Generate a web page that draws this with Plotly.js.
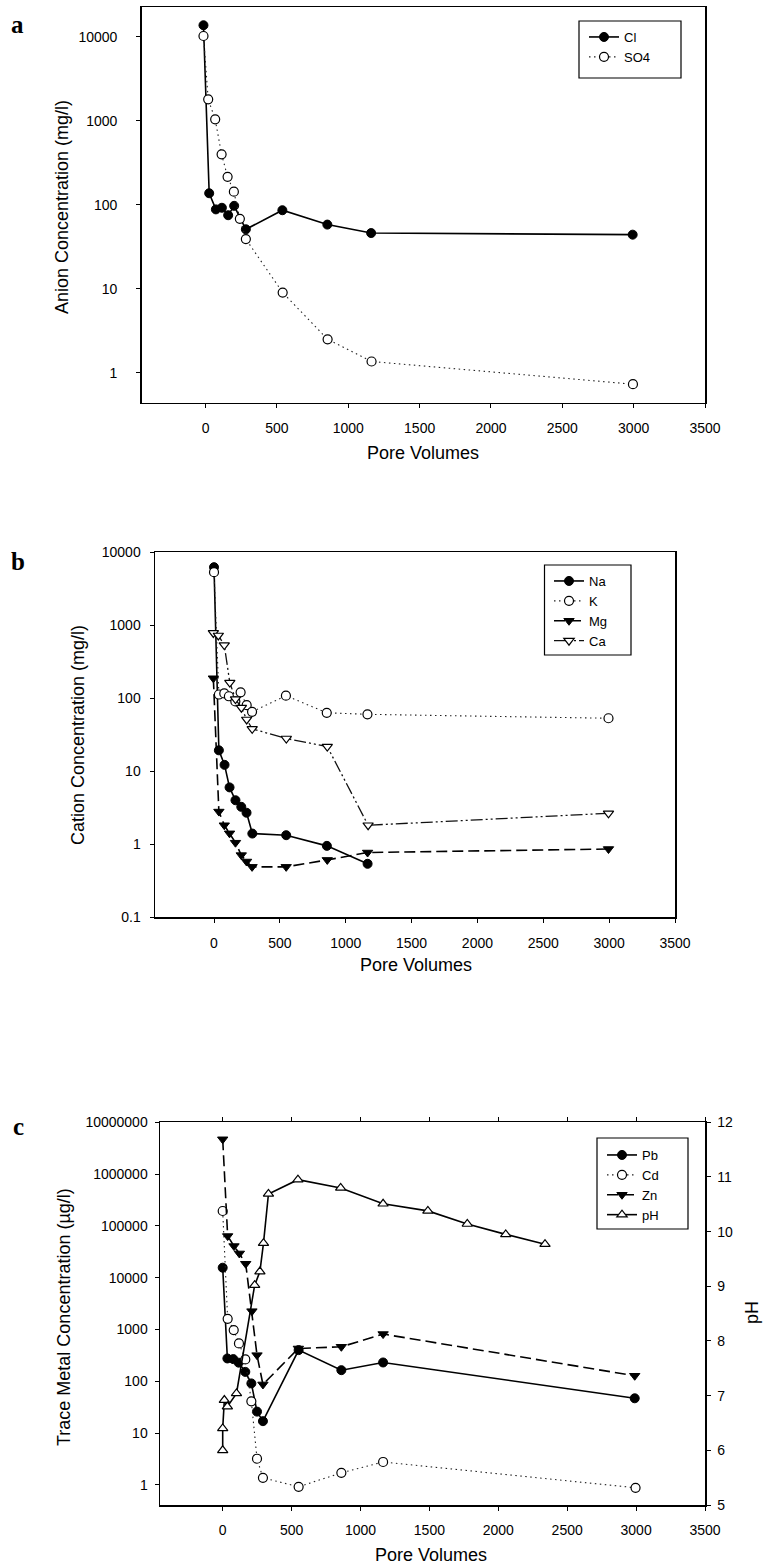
<!DOCTYPE html>
<html><head><meta charset="utf-8">
<script src="https://cdn.plot.ly/plotly-3.0.1.min.js"></script>
<style>html,body{margin:0;padding:0;background:#fff}#chart{width:763px;height:1566px}</style>
</head><body><div id="chart"></div>
<script>
// ---------- data: panel a (anions, mg/l) ----------
const poreCl  = [-15, 25, 72, 114, 158, 200, 282, 538, 853, 1160, 2993];
const cl      = [13700, 137, 88, 92, 75, 97, 51, 86, 58, 46, 44];
const poreSO4 = [-15, 18, 67, 112, 154, 198, 240, 282, 540, 855, 1163, 2995];
const so4     = [10200, 1800, 1040, 398, 215, 143, 68, 39, 9.0, 2.5, 1.36, 0.73];

// ---------- data: panel b (cations, mg/l) ----------
const poreNa = [0, 37, 80, 118, 163, 207, 247, 291, 548, 857, 1166];
const na     = [6200, 19.3, 12.2, 6.0, 4.0, 3.25, 2.7, 1.4, 1.33, 0.95, 0.54];
const poreK  = [0, 37, 78, 113, 162, 202, 248, 289, 546, 856, 1165, 2995];
const k      = [5300, 112, 116, 106, 90, 120, 80, 65, 108, 63, 60, 53];
const poreMg = [-5, 37, 78, 118, 163, 207, 247, 289, 548, 860, 1166, 2995];
const mg     = [187, 2.8, 1.82, 1.41, 1.05, 0.71, 0.58, 0.49, 0.49, 0.61, 0.77, 0.86];
const poreCa = [-5, 33, 78, 120, 163, 208, 248, 290, 549, 860, 1170, 2995];
const ca     = [780, 720, 533, 163, 97, 74, 51, 38, 28, 21.7, 1.82, 2.65];

// ---------- data: panel c (trace metals, ug/l, and pH) ----------
const porePb = [0, 34, 77, 116, 164, 208, 249, 292, 551, 861, 1164, 2990];
const pb     = [15600, 276, 268, 229, 152, 91, 26, 17, 400, 164, 231, 47];
const poreCd = [0, 36, 80, 118, 164, 208, 249, 292, 551, 861, 1164, 2996];
const cd     = [194000, 1610, 973, 538, 264, 41, 3.2, 1.37, 0.92, 1.71, 2.77, 0.88];
const poreZn = [0, 36, 82, 121, 167, 212, 249, 292, 549, 861, 1164, 2990];
const zn     = [4700000, 63700, 40800, 29400, 18600, 2260, 320, 87, 430, 464, 817, 128];
const porePH = [0, 0, 12, 34, 100, 232, 270, 296, 332, 546, 856, 1164, 1489, 1775, 2054, 2339];
const ph     = [6.0, 6.4, 6.92, 6.8, 7.04, 9.02, 9.27, 9.79, 10.69, 10.95, 10.8, 10.51, 10.38, 10.14, 9.95, 9.77];

// ---------- tick labels ----------
const xTicks = [0, 500, 1000, 1500, 2000, 2500, 3000, 3500];
const xTickText = ["0", "500", "1000", "1500", "2000", "2500", "3000", "3500"];
const yTicksA = [1, 10, 100, 1000, 10000];
const yTickTextA = ["1", "10", "100", "1000", "10000"];
const yTicksB = [0.1, 1, 10, 100, 1000, 10000];
const yTickTextB = ["0.1", "1", "10", "100", "1000", "10000"];
const yTicksC = [1, 10, 100, 1000, 10000, 100000, 1000000, 10000000];
const yTickTextC = ["1", "10", "100", "1000", "10000", "100000", "1000000", "10000000"];
const pHTicks = [5, 6, 7, 8, 9, 10, 11, 12];

// ---------- helpers for pixel -> paper ----------
const W = 763, H = 1566;
const px = v => v / W;
const py = v => 1 - v / H;
const FONT = "Liberation Sans, Arial, sans-serif";

const solid = {color: "#000", width: 1.6};
const dotted = {color: "#222", width: 1.1, dash: "1.5px,3.5px"};
const dashed = {color: "#000", width: 1.6, dash: "11px,5px"};
const dashdot = {color: "#111", width: 1.3, dash: "12px,3px,2px,3px,2px,3px"};
const filledCircle = {symbol: "circle", size: 9, color: "#000", line: {color: "#000", width: 1}};
const openCircle = {symbol: "circle", size: 9, color: "#fff", line: {color: "#000", width: 1.2}};
const filledDown = {symbol: "triangle-down", size: 9, color: "#000", line: {color: "#000", width: 1}};
const openDown = {symbol: "triangle-down", size: 9, color: "#fff", line: {color: "#000", width: 1.2}};
const openUp = {symbol: "triangle-up", size: 9, color: "#fff", line: {color: "#000", width: 1.2}};

function tr(x, y, name, line, marker, xa, ya, lg) {
  return {x: x, y: y, name: name, type: "scatter", mode: "lines+markers",
          line: line, marker: marker, xaxis: xa, yaxis: ya, legend: lg, cliponaxis: false};
}

const data = [
  tr(poreCl, cl, "Cl", solid, filledCircle, "x", "y", "legend"),
  tr(poreSO4, so4, "SO4", dotted, openCircle, "x", "y", "legend"),
  tr(poreNa, na, "Na", solid, filledCircle, "x2", "y2", "legend2"),
  tr(poreK, k, "K", dotted, openCircle, "x2", "y2", "legend2"),
  tr(poreMg, mg, "Mg", dashed, filledDown, "x2", "y2", "legend2"),
  tr(poreCa, ca, "Ca", dashdot, openDown, "x2", "y2", "legend2"),
  tr(porePb, pb, "Pb", solid, filledCircle, "x3", "y3", "legend3"),
  tr(poreCd, cd, "Cd", dotted, openCircle, "x3", "y3", "legend3"),
  tr(poreZn, zn, "Zn", dashed, filledDown, "x3", "y3", "legend3"),
  tr(porePH, ph, "pH", solid, openUp, "x3", "y4", "legend3")
];

function xAxis(dom, rng, anchor, standoff) {
  return {domain: dom, range: rng, anchor: anchor, tickvals: xTicks, ticktext: xTickText,
    ticks: "outside", ticklen: 4, tickwidth: 1, tickcolor: "#000", showline: true, linecolor: "#000",
    linewidth: 1.5, mirror: true, showgrid: false, zeroline: false, ticklabelstandoff: standoff,
    tickfont: {family: FONT, size: 14, color: "#000"}};
}
function yAxis(dom, rng, anchor, vals, text, standoff) {
  return {domain: dom, type: "log", range: rng, anchor: anchor, tickvals: vals, ticktext: text,
    ticks: "outside", ticklen: 4, tickwidth: 1, tickcolor: "#000", showline: true, linecolor: "#000",
    linewidth: 1.5, mirror: true, showgrid: false, zeroline: false, ticklabelstandoff: standoff,
    tickfont: {family: FONT, size: 14, color: "#000"}};
}

const domA = {x: [px(141.7), px(705)], y: [py(402.7), py(7)]};
const domB = {x: [px(155), px(675)], y: [py(917.3), py(552)]};
const domC = {x: [px(160), px(705)], y: [py(1505), py(1122.3)]};

function legendAt(x, y) {
  return {x: px(x), y: py(y), xanchor: "left", yanchor: "top", bgcolor: "rgba(0,0,0,0)",
    borderwidth: 0, font: {family: FONT, size: 13, color: "#000"}, tracegroupgap: 0, itemwidth: 30};
}

function ann(text, x, y, size, angle, fam, bold) {
  return {text: bold ? "<b>" + text + "</b>" : text, x: px(x), y: py(y), xref: "paper", yref: "paper",
    showarrow: false, textangle: angle || 0, xanchor: "center", yanchor: "middle",
    font: {family: fam || FONT, size: size, color: "#000"}};
}
function box(x0, y0, x1, y1) {
  return {type: "rect", xref: "paper", yref: "paper", x0: px(x0), x1: px(x1), y0: py(y0), y1: py(y1),
    line: {color: "#000", width: 1.2}, fillcolor: "rgba(0,0,0,0)"};
}

const y4 = {overlaying: "y3", side: "right", anchor: "x3", range: [5, 12], tickvals: pHTicks,
  ticks: "outside", ticklen: 4, tickwidth: 1, tickcolor: "#000", showline: true, linecolor: "#000",
  linewidth: 1.5, showgrid: false, zeroline: false, ticklabelstandoff: 4,
  tickfont: {family: FONT, size: 14, color: "#000"}};

const layout = {
  width: W, height: H, margin: {l: 0, r: 0, t: 0, b: 0},
  paper_bgcolor: "#fff", plot_bgcolor: "rgba(0,0,0,0)", showlegend: true,
  xaxis: xAxis(domA.x, [-448, 3500], "y", 8),
  yaxis: yAxis(domA.y, [-0.357, 4.354], "x", yTicksA, yTickTextA, 16),
  xaxis2: xAxis(domB.x, [-448, 3500], "y2", 8),
  yaxis2: yAxis(domB.y, [-1, 4], "x2", yTicksB, yTickTextB, 6),
  xaxis3: Object.assign(xAxis(domC.x, [-455, 3500], "y3", 8), {mirror: "all"}),
  yaxis3: Object.assign(yAxis(domC.y, [-0.388, 7], "x3", yTicksC, yTickTextC, 4), {mirror: false}),
  yaxis4: y4,
  legend: legendAt(584, 22),
  legend2: legendAt(549, 566),
  legend3: legendAt(602, 1140),
  shapes: [box(579, 21, 681, 78), box(544.5, 565, 631, 655), box(597, 1138, 688, 1229)],
  annotations: [
    ann("a", 17, 24, 25, 0, "Liberation Serif, Times New Roman, serif", true),
    ann("b", 18, 561, 25, 0, "Liberation Serif, Times New Roman, serif", true),
    ann("c", 18, 1126, 25, 0, "Liberation Serif, Times New Roman, serif", true),
    ann("Anion Concentration (mg/l)", 62, 207, 18, -90),
    ann("Pore Volumes", 423, 453, 18, 0),
    ann("Cation Concentration (mg/l)", 78, 735, 18, -90),
    ann("Pore Volumes", 416, 965, 18, 0),
    ann("Trace Metal Concentration (µg/l)", 64, 1317, 18, -90),
    ann("Pore Volumes", 431, 1555, 18, 0),
    ann("pH", 752, 1313, 18, -90)
  ]
};

Plotly.newPlot("chart", data, layout, {staticPlot: true, displayModeBar: false});
</script>
</body></html>
